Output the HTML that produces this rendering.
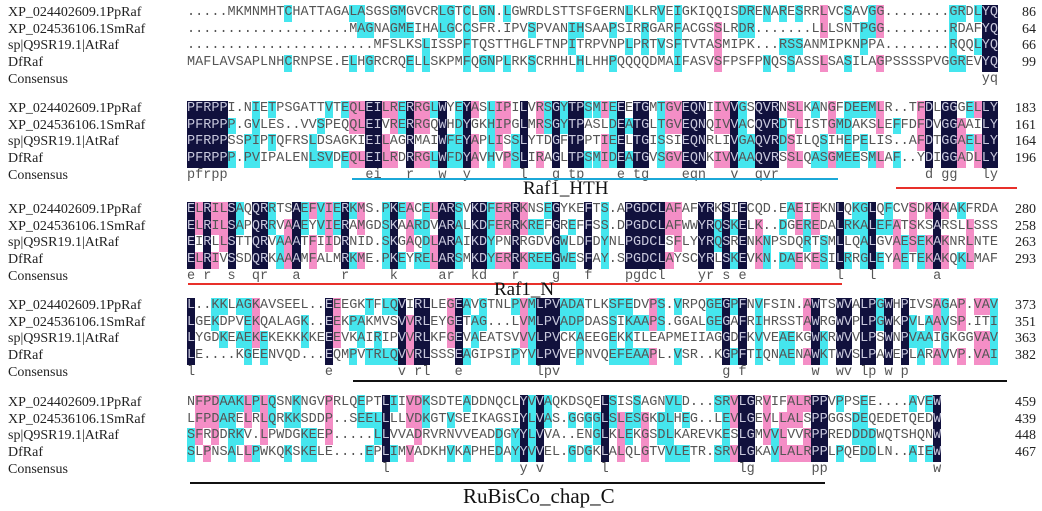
<!DOCTYPE html>
<html><head><meta charset="utf-8">
<style>
body{margin:0;background:#fff;}
#fig{position:relative;width:1042px;height:511px;overflow:hidden;background:#fff;}
.lab{position:absolute;left:8px;font:14px "Liberation Serif",serif;color:#222;white-space:nowrap;line-height:16px;}
.num{position:absolute;right:6px;font:14px "Liberation Serif",serif;color:#222;line-height:16px;}
.c{position:absolute;width:8.11px;height:16.7px;font:13.5px "Liberation Mono",monospace;line-height:16.7px;text-align:center;color:#555;}
.n{background:#11113d;color:#c8c8dc;}
.p{background:#f48ec6;}
.y{background:#45e6ee;}
.cons{color:#555;}
.uline{position:absolute;height:2px;}
.dom{position:absolute;font:19px "Liberation Serif",serif;color:#111;white-space:nowrap;}
</style></head>
<body>
<div id="fig"></div>
<script>
const names = ["XP_024402609.1PpRaf","XP_024536106.1SmRaf","sp|Q9SR19.1|AtRaf","DfRaf"];
const block1 = [
".....MKMNMHTCHATTAGALASGSGMGVCRLGTCLGN.LGWRDLSTTSFGERNLKLRVEIGKIQQISDRENARESRRLVCSAVGG........GRDLYQ",
"....................MAGNAGMEIHALGCCSFR.IPVSPVANIHSAAPSIRRGARFACGSSLRDR.......LLLSNTPGG........RDAFYQ",
".......................MFSLKSLISSPFTQSTTHGLFTNPITRPVNPLPRTVSFTVTASMIPK...RSSANMIPKNPPA........RQQLYQ",
"MAFLAVSAPLNHCRNPSE.ELHGRCRQELLSKPMFQGNPLRKSCRHHLHLHHPQQQQDMAIFASVSFPSFPNQSSASSLSASILAGPSSSSPVGGREVYQ"];
const block2 = [
"PFRPPI.NIETPSGATTVTEQLEILRERRGLWYEYASLIPILVRSGYTPSMIEEETGMTGVEQNIIVVGSQVRNSLKANGFDEEMLR..TFDLGGGELLY",
"PFRPPP.GVLES..VVSPEQQLEIVRERRGQWHDYGKHIPGLMRSGYTPASLDEATGLTGVEQNQIVVACQVRDTLISTGMDAKSLEFFDFDVGGAAILY",
"PFRPPSSPIPTQFRSLDSAGKIEILAGRMAIWFEYAPLISSLYTDGFTPPTIEELTGISSIEQNRLIVGAQVRDSILQSIHEPELIS..AFDTGGAELLY",
"PFRPPP.PVIPALENLSVDEQLEILRDRRGLWFDYAVHVPSLIRAGLTPSMIDEATGVSGVEQNKIVVAAQVRSSLQASGMEESMLAF..YDIGGADLLY"];
const block3 = [
"ELRILSAQQRRTSAEFVIERKMS.PKEACELARSVKDFERRKNSEGYKEFTS.APGDCLAFAFYRKSIECQD.EAEIEKNLQKGLQFCVSDKAKAKFRDA",
"ELRILSAPQRRVAAEYVIERAMGDSKAARDVARALKDFERRKREFGREFFSS.DPGDCLAFWWYRQSKELK..DGEREDALRKALEFATSKSARSLLSSS",
"EIRLLSTTQRVAAATFIIDRNID.SKGAQDLARAIKDYPNRRGDVGWLDFDYNLPGDCLSFLYYRQSRENKNPSDQRTSMLLQALGVAESEKAKNRLNTE",
"ELRIVSSDQRKAAAMFALMRKME.PKEYRELARSMKDYERRKREEGWESFAY.SPGDCLAYSCYRLSKEVKN.DAEKESILRRGLEYAETEKAKQKLMAF"];
const block4 = [
"L..KKLAGKAVSEEL..EEEGKTFLQVIRLLEGEAVGTNLPVMLPVADATLKSFEDVPS.VRPQGEGPFNVFSIN.AWTSWVALPGWHPIVSAGAP.VAV",
"LGEKDPVEKQALAGK..EEKPAKMVSVVRLEYGETAG...LVMLPVADPDASSIKAAPS.GGALGEGAFRIHRSSTAWRGWVPLPGWKPVLAAVSP.ITI",
"LYGDKEAEKEKEKKKKEEEVKAIRIPVVRLKFGEVAEATSVVVLPVCKAEEGEKKILEAPMEIIAGGDFKVVEAEKGWKRWVVLPSWNPVAAIGKGGVAV",
"LE....KGEENVQD...EQMPVTRLQVVRLSSSEAGIPSIPYVLPVVEPNVQEFEAAPL.VSR..KGPFTIQNAENAWKTWVSLPAWEPLARAVVP.VAI"];
const block5 = [
"NFPDAAKLPLQSNKNGVPRLQEPTLIIVDKSDTEADDNQCLYVVAQKDSQELSISSAGNVLD...SRVLGRVIFALRPPVPPSEE....AVEW",
"LFPDARELRLQRKKSDDP..SEELLLLVDKGTVSEIKAGSIYLVAS.GGGGLSLESGKDLHEG..LEVLGEVLLALSPPGGSDEQEDETQEDW",
"SFRDDRKV.LPWDGKEEP.....LLVVADRVRNVVEADDGYYLVVA..ENGLKLEKGSDLKAREVKESLGMVVLVVRPPREDDDDWQTSHQNW",
"SLPNSALLPWKQKSKELE....EPLIMVADKHVKAPHEDAYYVVEL.GDGKLALQLGTVVLETR.SRVLGKAVLALRPPLPQEDDLN..AIEW"];
const endNumbers = [[86,64,66,99],[183,161,164,196],[280,258,263,293],[373,351,363,382],[459,439,448,467]];
const blocks = [block1,block2,block3,block4,block5];

const fig = document.getElementById('fig');
const X0 = 187, CW = 8.11, RH = 16.7;
const blockTop = [5, 101, 202, 298, 395];

blocks.forEach((blk, bi) => {
  const top = blockTop[bi];
  for (let r = 0; r < 5; r++) {
    const lab = document.createElement('div');
    lab.className = 'lab';
    
    
    lab.style.top = (top + r * RH) + 'px';
    lab.textContent = r < 4 ? names[r] : 'Consensus';
    fig.appendChild(lab);
  }
  const len = blk[0].length;
  for (let col = 0; col < len; col++) {
    const counts = {};
    blk.forEach(s => { const ch = s[col]; if (ch && ch !== '.') counts[ch] = (counts[ch] || 0) + 1; });
    for (let r = 0; r < 4; r++) {
      const ch = blk[r][col];
      const cell = document.createElement('span');
      let cls = 'c';
      if (ch !== '.') {
        const k = counts[ch];
        if (k === 4) cls += ' n'; else if (k === 3) cls += ' p'; else if (k === 2) cls += ' y';
      }
      cell.className = cls;
      
      
      cell.style.left = (X0 + col * CW) + 'px';
      cell.style.top = (top + r * RH) + 'px';
      cell.textContent = ch;
      fig.appendChild(cell);
    }
    const ch0 = blk[0][col];
    if (ch0 !== '.' && counts[ch0] === 4) {
      const cc = document.createElement('span');
      cc.className = 'c cons';
      
      
      cc.style.left = (X0 + col * CW) + 'px';
      cc.style.top = (top + 4 * RH) + 'px';
      cc.textContent = ch0.toLowerCase();
      fig.appendChild(cc);
    }
  }
  for (let r = 0; r < 4; r++) {
    const nm = document.createElement('div');
    nm.className = 'num';
    
    
    nm.style.top = (top + r * RH) + 'px';
    nm.textContent = endNumbers[bi][r];
    fig.appendChild(nm);
  }
});
</script>
<div class="uline" style="left:352px;top:178px;width:486px;background:#1ba8d8;position:absolute;"></div>
<div class="dom" style="left:523px;top:178px;">Raf1_HTH</div>
<div class="uline" style="left:896px;top:187px;width:121px;background:#e8302a;position:absolute;"></div>
<div class="uline" style="left:188px;top:283px;width:654px;background:#e8302a;position:absolute;"></div>
<div class="dom" style="left:494px;top:279px;">Raf1_N</div>
<div class="uline" style="left:353px;top:380px;width:654px;background:#111;position:absolute;"></div>
<div class="uline" style="left:190px;top:482px;width:635px;background:#111;position:absolute;"></div>
<div class="dom" style="left:463px;top:484px;font-size:21px;">RuBisCo_chap_C</div>
</body></html>
